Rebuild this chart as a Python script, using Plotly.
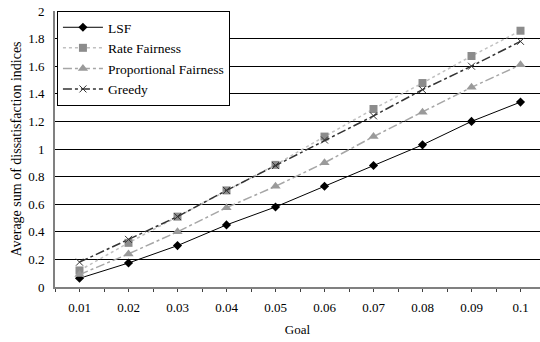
import plotly.graph_objects as go

goals = ["0.01", "0.02", "0.03", "0.04", "0.05", "0.06", "0.07", "0.08", "0.09", "0.1"]
lsf = [0.063, 0.174, 0.30, 0.45, 0.58, 0.73, 0.88, 1.03, 1.20, 1.34]
rate_fairness = [0.12, 0.32, 0.51, 0.70, 0.885, 1.09, 1.29, 1.478, 1.674, 1.857]
prop_fairness = [0.09, 0.24, 0.40, 0.575, 0.73, 0.90, 1.09, 1.266, 1.447, 1.61]
greedy = [0.18, 0.345, 0.51, 0.70, 0.88, 1.065, 1.24, 1.43, 1.60, 1.78]
y_ticks = [0, 0.2, 0.4, 0.6, 0.8, 1, 1.2, 1.4, 1.6, 1.8, 2]
y_tick_labels = ["0", "0.2", "0.4", "0.6", "0.8", "1", "1.2", "1.4", "1.6", "1.8", "2"]

idx = list(range(len(goals)))
serif = "Liberation Serif, Tinos, DejaVu Serif, serif"

fig = go.Figure()
fig.add_trace(go.Scatter(x=idx, y=lsf, name="LSF", mode="lines+markers",
                         line=dict(color="#000000", width=1),
                         marker=dict(symbol="diamond", size=7, color="#000000"),
                         legendgroup="a"))
fig.add_trace(go.Scatter(x=idx, y=rate_fairness, name="Rate Fairness", mode="lines+markers",
                         line=dict(color="#c0c0c0", width=1.5, dash="dot"),
                         marker=dict(symbol="square", size=8, color="#8c8c8c"),
                         legendgroup="b"))
fig.add_trace(go.Scatter(x=idx, y=prop_fairness, name="Proportional Fairness", mode="lines+markers",
                         line=dict(color="#a6a6a6", width=1.5, dash="dashdot"),
                         marker=dict(symbol="triangle-up", size=9, color="#9a9a9a"),
                         legendgroup="c"))
fig.add_trace(go.Scatter(x=idx, y=greedy, name="Greedy", mode="lines+markers",
                         line=dict(color="#333333", width=1.5, dash="dashdot"),
                         marker=dict(symbol="x-thin", size=7, color="#333333",
                                     line=dict(color="#333333", width=1)),
                         legendgroup="d"))

fig.update_layout(
    width=540, height=342,
    margin=dict(l=55, r=0, t=11, b=55, autoexpand=False),
    paper_bgcolor="white", plot_bgcolor="white",
    font=dict(family=serif, size=12, color="#000000"),
    showlegend=True,
    legend=dict(x=0.004, y=1.0, xanchor="left", yanchor="top",
                bgcolor="white", bordercolor="#000000", borderwidth=1,
                font=dict(family=serif, size=13.5, color="#000000"),
                tracegroupgap=0, itemwidth=40),
    xaxis=dict(range=[-0.5, 9.398], tickmode="array",
               tickvals=idx, ticktext=goals, automargin=False,
               showgrid=False, zeroline=False,
               showline=True, linecolor="#808080", linewidth=2,
               ticks="outside", ticklen=3, tickcolor="#404040",
               ticklabelstandoff=4,
               minor=dict(tickmode="array", tickvals=[i - 0.5 for i in range(11)],
                          ticks="outside", ticklen=3, tickcolor="#404040"),
               tickfont=dict(family=serif, size=13),
               title=dict(text="Goal", font=dict(family=serif, size=13), standoff=11)),
    yaxis=dict(range=[0, 2], tickmode="array", tickvals=y_ticks,
               ticktext=y_tick_labels, automargin=False,
               showgrid=True, gridcolor="#000000", gridwidth=1,
               zeroline=False, showline=True, linecolor="#808080", linewidth=2,
               ticks="", ticklabelstandoff=6, tickfont=dict(family=serif, size=13),
               title=dict(text="Average sum of dissatisfaction indices",
                          font=dict(family=serif, size=14), standoff=3)),
)
fig.write_html("out.html", config={"displayModeBar": False},
               post_script="document.body.style.margin='0';document.body.style.overflow='hidden';")
